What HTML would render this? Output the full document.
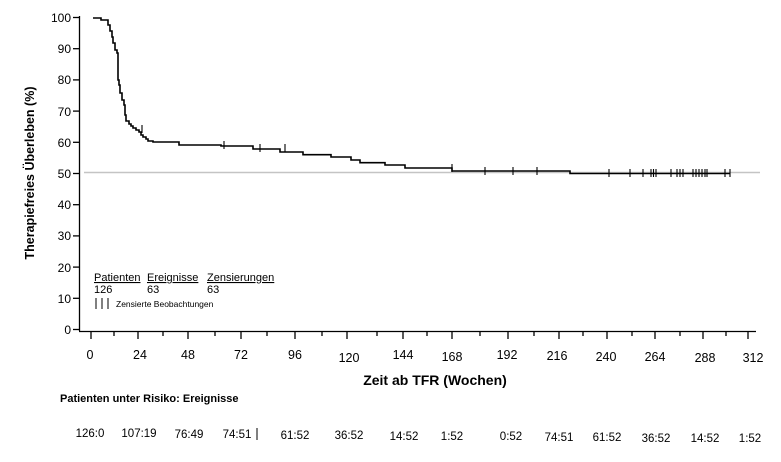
<!DOCTYPE html>
<html><head><meta charset="utf-8"><style>
body{margin:0;background:#fff;}
svg{display:block;font-family:"Liberation Sans",Arial,sans-serif;}
</style></head><body>
<svg width="781" height="462" viewBox="0 0 781 462" xmlns="http://www.w3.org/2000/svg">
<line x1="84" y1="172.5" x2="760" y2="172.5" stroke="#c4c4c4" stroke-width="1.5"/>
<g stroke="#000" stroke-width="1.3" fill="none">
<line x1="79.5" y1="16" x2="79.5" y2="331"/>
<line x1="79" y1="331.5" x2="756" y2="331.5"/>
<g>
<line x1="73" y1="17.5" x2="79" y2="17.5"/><line x1="73" y1="48.7" x2="79" y2="48.7"/><line x1="73" y1="79.9" x2="79" y2="79.9"/><line x1="73" y1="111.1" x2="79" y2="111.1"/><line x1="73" y1="142.3" x2="79" y2="142.3"/><line x1="73" y1="173.5" x2="79" y2="173.5"/><line x1="73" y1="204.7" x2="79" y2="204.7"/><line x1="73" y1="235.9" x2="79" y2="235.9"/><line x1="73" y1="267.1" x2="79" y2="267.1"/><line x1="73" y1="298.3" x2="79" y2="298.3"/><line x1="73" y1="329.5" x2="79" y2="329.5"/>
</g>
<g>
<path d="M91 331v8M138 331v8M188 331v8M241 331v8M295 331v8M347 331v8M403 331v8M452 331v8M508 331v8M559 331v8M607 331v8M655 331v8M703 331v8M748 331v8"/>
<path d="M114 331v5M163 331v5M215 331v5M267 331v5M322 331v5M377 331v5M427 331v5M480 331v5M534 331v5M583 331v5M632 331v5M680 331v5M726 331v5"/>
</g>
<path stroke-width="1.6" d="M93 18H101V20H108V25H110V31H112V37H113V43H115V50H117V53H118V80H119V85H120V93H122V100H124V105H125V115H126V121H129V124H131V126H133V128H136V130H139V132H141V135H143V137H146V139H148V141H153V142H179V145H221V146H253V149H280V152H303V154.7H331V157H351V160H360V162.7H385V165H405V168H452V171H570V173.5H730"/>
<path stroke-width="1.1" d="M142 125v8M224 141v8M260 144v8M285 144v8M452 164v8M485 167v8M513 167v8M537 167v8M609 169v8M630 169v8M643 169v8M651 169v8M653.5 169v8M656 169v8M671 169v8M677 169v8M680 169v8M683 169v8M693 169v8M696 169v8M699 169v8M702 169v8M705 169v8M707 169v8M725 169v8M730 169v8"/>
<path stroke-width="1" d="M96 298v11M102 298v11M108 298v11M257 428v12"/>
</g>
<g font-size="12" text-anchor="end" fill="#000">
<text x="71" y="22">100</text><text x="71" y="53">90</text><text x="71" y="84">80</text><text x="71" y="116">70</text><text x="71" y="147">60</text><text x="71" y="178">50</text><text x="71" y="209">40</text><text x="71" y="240">30</text><text x="71" y="272">20</text><text x="71" y="303">10</text><text x="71" y="334">0</text>
</g>
<text transform="translate(34,173) rotate(-90)" text-anchor="middle" font-size="12.5" font-weight="bold">Therapiefreies Überleben (%)</text>
<g font-size="12.5" text-anchor="middle">
<text x="90" y="359">0</text><text x="140" y="359">24</text><text x="188" y="359">48</text><text x="241" y="359">72</text><text x="295" y="359">96</text><text x="349" y="362">120</text><text x="403" y="359">144</text><text x="452" y="361">168</text><text x="507" y="359">192</text><text x="557" y="360">216</text><text x="606" y="361">240</text><text x="655" y="361">264</text><text x="705" y="362">288</text><text x="753" y="362">312</text>
</g>
<text x="435" y="385" text-anchor="middle" font-size="14" font-weight="bold">Zeit ab TFR (Wochen)</text>
<text x="60" y="402" font-size="11" font-weight="bold">Patienten unter Risiko: Ereignisse</text>
<g font-size="11.5" text-anchor="middle">
<text x="90" y="437">126:0</text><text x="139" y="437">107:19</text><text x="189" y="438">76:49</text><text x="237" y="438">74:51</text><text x="295" y="439">61:52</text><text x="349" y="439">36:52</text><text x="404" y="440">14:52</text><text x="452" y="440">1:52</text><text x="511" y="440">0:52</text><text x="559" y="441">74:51</text><text x="607" y="441">61:52</text><text x="656" y="442">36:52</text><text x="705" y="442">14:52</text><text x="750" y="442">1:52</text>
</g>
<g font-size="11">
<text x="94" y="281" text-decoration="underline">Patienten</text>
<text x="147" y="281" text-decoration="underline">Ereignisse</text>
<text x="207" y="281" text-decoration="underline">Zensierungen</text>
<text x="94" y="293">126</text><text x="147" y="293">63</text><text x="207" y="293">63</text>
</g>
<text x="116" y="307" font-size="8.5">Zensierte Beobachtungen</text>
</svg>
</body></html>
